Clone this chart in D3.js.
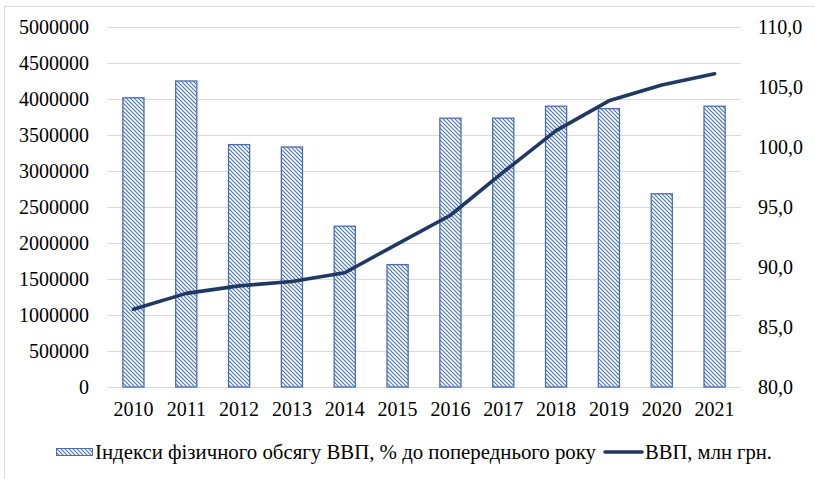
<!DOCTYPE html>
<html><head><meta charset="utf-8">
<script src="https://cdn.jsdelivr.net/npm/d3@7"></script>
<style>body{margin:0;background:#fff}svg{display:block}text{font-family:"Liberation Serif","Times New Roman",serif;fill:#000}</style>
</head><body>
<svg id="c" width="815" height="479" font-family="Liberation Serif, Times New Roman, serif"></svg>
<script>
const years = ["2010","2011","2012","2013","2014","2015","2016","2017","2018","2019","2020","2021"];
const indexValues = [104.1,105.5,100.2,100.0,93.4,90.2,102.4,102.4,103.4,103.2,96.1,103.4];
const gdpValues = [1079346,1299991,1404669,1465198,1586915,1988544,2385367,2983882,3560596,3974564,4194102,4350000];
const leftTicks = [0,500000,1000000,1500000,2000000,2500000,3000000,3500000,4000000,4500000,5000000];
const rightTicks = [80,85,90,95,100,105,110];
const seriesNames = ["Індекси фізичного обсягу ВВП, % до попереднього року","ВВП, млн грн."];

const svg = d3.select("#c");
const L = 107, R = 741, T = 27, B = 387;
const fs = 20;
const ff = "Liberation Serif, Times New Roman, serif";

const defs = svg.append("defs");
const pat = defs.append("pattern").attr("id","hatch").attr("patternUnits","userSpaceOnUse")
  .attr("width",4).attr("height",4);
pat.append("rect").attr("width",4).attr("height",4).attr("fill","#fff");
pat.append("path").attr("d","M-1,-1 L5,5 M-1,3 L1,5 M3,-1 L5,1")
  .attr("stroke","#4472c4").attr("stroke-width",1.1);

// outer border
svg.append("rect").attr("x",4.5).attr("y",6.5).attr("width",830).attr("height",500)
  .attr("fill","none").attr("stroke","#d9d9d9").attr("stroke-width",1);

const x = d3.scaleBand().domain(years).range([L,R]).paddingInner(0.6).paddingOuter(0.3);
const xc = d => x(d) + x.bandwidth()/2;
const yL = d3.scaleLinear().domain([0,5000000]).range([B,T]);
const yR = d3.scaleLinear().domain([80,110]).range([B,T]);

// gridlines
svg.append("g").selectAll("line").data(leftTicks).join("line")
  .attr("x1",L).attr("x2",R).attr("y1",d=>Math.round(yL(d))+0.5).attr("y2",d=>Math.round(yL(d))+0.5)
  .attr("stroke","#d9d9d9").attr("stroke-width",1.2);

// left axis
const axL = svg.append("g").attr("transform",`translate(${L},0)`)
  .call(d3.axisLeft(yL).tickValues(leftTicks).tickFormat(d=>String(d)).tickSize(0).tickPadding(18));
axL.select(".domain").remove();
axL.attr("font-family",ff).selectAll("text").attr("font-size",fs).attr("font-family",ff);

// right axis
const axR = svg.append("g").attr("transform",`translate(${R},0)`)
  .call(d3.axisRight(yR).tickValues(rightTicks).tickFormat(d=>d.toFixed(1).replace(".",",")).tickSize(0).tickPadding(17));
axR.select(".domain").remove();
axR.attr("font-family",ff).selectAll("text").attr("font-size",fs).attr("font-family",ff);

// bottom axis
const axB = svg.append("g").attr("transform",`translate(0,${B})`)
  .call(d3.axisBottom(x).tickSize(0).tickPadding(15));
axB.select(".domain").remove();
axB.attr("font-family",ff).selectAll("text").attr("font-size",fs).attr("font-family",ff);

// bars
svg.append("g").selectAll("rect").data(years).join("rect")
  .attr("x",d=>x(d)).attr("width",x.bandwidth())
  .attr("y",(d,i)=>yR(indexValues[i])).attr("height",(d,i)=>B-yR(indexValues[i]))
  .attr("fill","url(#hatch)").attr("stroke","#4a6db0").attr("stroke-width",1.3);

// line
const line = d3.line().x((d,i)=>xc(years[i])).y(d=>yL(d));
svg.append("path").datum(gdpValues).attr("d",line).attr("fill","none")
  .attr("stroke","#203864").attr("stroke-width",3.6).attr("stroke-linejoin","round").attr("stroke-linecap","round");

// legend
const lg = svg.append("g").attr("font-family",ff);
lg.append("rect").attr("x",56.5).attr("y",448.5).attr("width",36).attr("height",7)
  .attr("fill","url(#hatch)").attr("stroke","#4a6db0").attr("stroke-width",1);
lg.append("text").attr("x",95).attr("y",452).attr("dy","0.35em").attr("font-size",20.5)
  .attr("textLength",501).attr("lengthAdjust","spacingAndGlyphs").text(seriesNames[0]);
lg.append("line").attr("x1",605).attr("x2",642).attr("y1",452).attr("y2",452)
  .attr("stroke","#203864").attr("stroke-width",3.6).attr("stroke-linecap","round");
lg.append("text").attr("x",645).attr("y",452).attr("dy","0.35em").attr("font-size",20.5)
  .attr("textLength",127).attr("lengthAdjust","spacingAndGlyphs").text(seriesNames[1]);
</script>
</body></html>
